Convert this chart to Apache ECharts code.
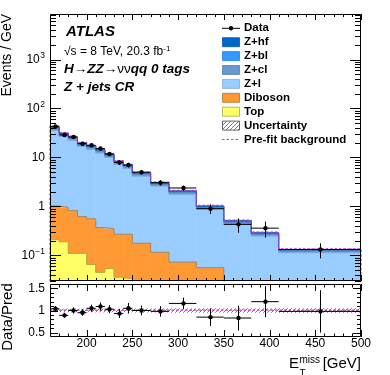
<!DOCTYPE html>
<html>
<head>
<meta charset="utf-8">
<script src="https://cdn.jsdelivr.net/npm/echarts@6/dist/echarts.min.js"></script>
<style>
  html, body { margin: 0; padding: 0; background: #fff; }
  #chart { width: 390px; height: 375px; }
</style>
</head>
<body>
<div id="chart"></div>
<script>
// bin edges in GeV
const binEdges = [160, 170, 180, 190, 200, 210, 220, 230, 240, 250, 270, 290, 320, 350, 380, 410, 500];

// backgrounds, events / GeV
const topBkg = [0.21, 0.19, 0.11, 0.11, 0.065, 0.045, 0.054, 0.036, 0.034, 0.02, 0.015, 0.01, 0.008, 0.005, 0.004, 0.002];
const diboson = [0.81, 0.77, 0.71, 0.51, 0.495, 0.325, 0.296, 0.234, 0.236, 0.157, 0.101, 0.063, 0.048, 0.02, 0.016, 0.01];
const zLight = [34.9, 25.8, 21.7, 16.3, 14.1, 12.0, 9.65, 6.9, 5.7, 4.0, 2.5, 1.7, 0.82, 0.41, 0.23, 0.102];
const zCl = [3.7, 2.7, 2.3, 1.7, 1.5, 1.27, 1.02, 0.73, 0.6, 0.42, 0.26, 0.18, 0.086, 0.044, 0.024, 0.011];
const zBl = [1.25, 0.9, 0.75, 0.6, 0.5, 0.42, 0.34, 0.24, 0.2, 0.14, 0.09, 0.06, 0.027, 0.015, 0.008, 0.0036];
const zHf = [1.25, 0.9, 0.75, 0.6, 0.5, 0.41, 0.34, 0.23, 0.2, 0.14, 0.09, 0.06, 0.027, 0.016, 0.008, 0.0034];
const uncRel = [0.04, 0.04, 0.04, 0.04, 0.04, 0.04, 0.04, 0.04, 0.04, 0.045, 0.045, 0.05, 0.05, 0.05, 0.05, 0.05];
const preFit = [43.5, 32.3, 27.2, 20.4, 17.7, 14.9, 12.0, 8.65, 7.2, 5.03, 3.15, 2.14, 1.05, 0.525, 0.298, 0.136];

// data
const dataVals = [43, 28.8, 26.1, 19.1, 17.7, 15.2, 11.8, 7.9, 7.0, 5.0, 3.05, 2.38, 0.9, 0.43, 0.36, 0.132];
const dataErr = [2.05, 1.7, 1.6, 1.4, 1.3, 1.2, 1.08, 0.9, 0.8, 0.5, 0.4, 0.28, 0.2, 0.14, 0.13, 0.045];

// ratio panel
const ratioVals = [1.04, 0.89, 1.0, 0.95, 1.05, 1.09, 1.03, 0.93, 1.05, 1.0, 0.98, 1.16, 0.85, 0.83, 1.2, 0.98];
const ratioErr = [0.06, 0.06, 0.07, 0.07, 0.08, 0.09, 0.09, 0.1, 0.12, 0.11, 0.12, 0.13, 0.2, 0.28, 0.35, 0.48];
const preFitRatio = [1.01, 1.01, 1.01, 1.01, 1.01, 1.01, 1.01, 1.01, 1.01, 1.01, 1.01, 1.01, 1.01, 1.01, 1.01, 1.01];

// tick labels
const xMajorTicks = [200, 250, 300, 350, 400, 450, 500];
const yMainLabels = [0.1, 1, 10, 100, 1000];
const yRatioLabels = [0.5, 1, 1.5];

const FONT = '"Liberation Sans", Arial, sans-serif';
const nBins = binEdges.length - 1;
const Y_MIN = 0.03, Y_MAX = 8500;

// hatch pattern for the uncertainty
const hatch = document.createElement('canvas');
hatch.width = 4; hatch.height = 4;
(function () {
    const g = hatch.getContext('2d');
    g.strokeStyle = '#555';
    g.lineWidth = 0.8;
    g.beginPath();
    g.moveTo(0, 4); g.lineTo(4, 0);
    g.moveTo(-1, 1); g.lineTo(1, -1);
    g.moveTo(3, 5); g.lineTo(5, 3);
    g.stroke();
})();
const hatchFill = { image: hatch, repeat: 'repeat' };

function boxRenderer(fill, stroke) {
    return function (params, api) {
        const a = api.coord([api.value(0), api.value(3)]);
        const b = api.coord([api.value(1), api.value(2)]);
        return {
            type: 'rect',
            shape: { x: a[0], y: a[1], width: b[0] - a[0], height: b[1] - a[1] },
            style: { fill: fill, stroke: stroke, lineWidth: stroke ? 0.6 : 0 }
        };
    };
}

function pointRenderer(params, api) {
    const x0 = api.value(0), x1 = api.value(1), y = api.value(2), e = api.value(3);
    const xc = (x0 + x1) / 2;
    const c = api.coord([xc, y]);
    const l = api.coord([x0, y]), r = api.coord([x1, y]);
    const u = api.coord([xc, y + e]), d = api.coord([xc, Math.max(y - e, 1e-4)]);
    const cx = Math.round(c[0]) + 0.5;
    return {
        type: 'group',
        children: [
            { type: 'line', shape: { x1: l[0], y1: c[1], x2: r[0], y2: c[1] }, style: { stroke: '#000', lineWidth: 1 } },
            { type: 'line', shape: { x1: cx, y1: u[1], x2: cx, y2: d[1] }, style: { stroke: '#000', lineWidth: 1 } },
            { type: 'circle', shape: { cx: cx, cy: c[1], r: 2.2 }, style: { fill: '#000' } }
        ]
    };
}

function stepPoints(vals, closeBottom) {
    const pts = [];
    if (closeBottom) pts.push([binEdges[0], 1e-3]);
    for (let i = 0; i < nBins; i++) pts.push([binEdges[i], vals[i]]);
    pts.push([binEdges[nBins], vals[nBins - 1]]);
    if (closeBottom) pts.push([binEdges[nBins], 1e-3]);
    return pts;
}

// stacked histogram, bottom to top
const components = [
    { name: 'Top', vals: topBkg, color: '#ffff66', edge: '#a8a840' },
    { name: 'Diboson', vals: diboson, color: '#ff9933', edge: '#b0702a' },
    { name: 'Z+l', vals: zLight, color: '#99ccff', edge: '#7fa9d4' },
    { name: 'Z+cl', vals: zCl, color: '#6699cc', edge: '#557fa8' },
    { name: 'Z+bl', vals: zBl, color: '#3399ff', edge: '#2a7fd4' },
    { name: 'Z+hf', vals: zHf, color: '#0066cc', edge: '#0055aa' }
];

const series = [];
const cum = new Array(nBins).fill(0);
components.forEach(function (c) {
    const items = [];
    for (let i = 0; i < nBins; i++) {
        const lo = cum[i] > 0 ? cum[i] : 1e-4;
        cum[i] += c.vals[i];
        items.push([binEdges[i], binEdges[i + 1], lo, cum[i]]);
    }
    series.push({
        type: 'custom', name: c.name, xAxisIndex: 0, yAxisIndex: 0, clip: true, silent: true, z: 2,
        encode: { x: [0, 1], y: [2, 3] }, data: items, renderItem: boxRenderer(c.color, c.color)
    });
    series.push({
        type: 'line', step: 'end', xAxisIndex: 0, yAxisIndex: 0, symbol: 'none', silent: true, z: 3,
        data: stepPoints(cum.slice(), false), lineStyle: { color: c.edge, width: 0.8 }
    });
});
const total = cum.slice();

// uncertainty band
series.push({
    type: 'custom', xAxisIndex: 0, yAxisIndex: 0, clip: true, silent: true, z: 4,
    encode: { x: [0, 1], y: [2, 3] },
    data: total.map((t, i) => [binEdges[i], binEdges[i + 1], t * (1 - uncRel[i]), t * (1 + uncRel[i])]),
    renderItem: boxRenderer(hatchFill, null)
});
series.push({
    type: 'custom', xAxisIndex: 1, yAxisIndex: 1, clip: true, silent: true, z: 4,
    encode: { x: [0, 1], y: [2, 3] },
    data: uncRel.map((u, i) => [binEdges[i], binEdges[i + 1], 1 - u, 1 + u]),
    renderItem: boxRenderer(hatchFill, null)
});

// pre-fit background
series.push({
    type: 'line', step: 'end', xAxisIndex: 0, yAxisIndex: 0, symbol: 'none', silent: true, z: 5,
    data: stepPoints(preFit, true), lineStyle: { color: '#cc33cc', width: 1.2, type: [2.5, 2] }
});
series.push({
    type: 'line', step: 'end', xAxisIndex: 1, yAxisIndex: 1, symbol: 'none', silent: true, z: 5,
    data: stepPoints(preFitRatio, false), lineStyle: { color: '#cc33cc', width: 1.2, type: [2.5, 2] }
});

// data points
series.push({
    type: 'custom', xAxisIndex: 0, yAxisIndex: 0, clip: true, silent: true, z: 6,
    encode: { x: [0, 1], y: 2 },
    data: dataVals.map((v, i) => [binEdges[i], binEdges[i + 1], v, dataErr[i]]),
    renderItem: pointRenderer
});
series.push({
    type: 'custom', xAxisIndex: 1, yAxisIndex: 1, clip: true, silent: true, z: 6,
    encode: { x: [0, 1], y: 2 },
    data: ratioVals.map((v, i) => [binEdges[i], binEdges[i + 1], v, ratioErr[i]]),
    renderItem: pointRenderer
});

// frames, ticks and tick labels, placed by the axes
function logLabel(v) {
    const e = Math.round(Math.log10(v));
    if (e === 0) return '1';
    if (e === 1) return '10';
    return '10{sup|' + (e < 0 ? '\u2212' + (-e) : e) + '}';
}
function frameSeries(gi, xRef, yRef, xt, yt, xLab, yLab) {
    const items = [];
    xt.forEach(t => items.push([t[0], yRef, 0, t[1], t[2]]));
    yt.forEach(t => items.push([xRef, t[0], 1, t[1], t[2]]));
    return {
        type: 'custom', xAxisIndex: gi, yAxisIndex: gi, silent: true, z: 20, clip: false,
        encode: { x: 0, y: 1 }, data: items,
        renderItem: function (params, api) {
            const cs = params.coordSys;
            const v0 = api.value(0), v1 = api.value(1);
            const p = api.coord([v0, v1]);
            const kind = api.value(2), len = api.value(3), lab = api.value(4);
            const ch = [];
            const st = { stroke: '#000', lineWidth: 1 };
            if (kind === 0) {
                const x = Math.round(p[0]) + 0.5;
                const yb = cs.y + cs.height;
                ch.push({ type: 'line', shape: { x1: x, y1: yb, x2: x, y2: yb - len }, style: st });
                ch.push({ type: 'line', shape: { x1: x, y1: cs.y, x2: x, y2: cs.y + len }, style: st });
                if (lab && xLab) ch.push({ type: 'text', style: { text: String(v0), x: p[0], y: yb + 1, align: 'center', verticalAlign: 'top', font: '12px ' + FONT, fill: '#000' } });
            } else {
                const y = Math.round(p[1]) + 0.5;
                const xr = cs.x + cs.width;
                ch.push({ type: 'line', shape: { x1: cs.x, y1: y, x2: cs.x + len, y2: y }, style: st });
                ch.push({ type: 'line', shape: { x1: xr, y1: y, x2: xr - len, y2: y }, style: st });
                if (lab) ch.push({
                    type: 'text',
                    style: {
                        text: yLab(v1), x: cs.x - 5, y: p[1], align: 'right', verticalAlign: 'middle',
                        font: '12px ' + FONT, fill: '#000', lineHeight: 16,
                        rich: { sup: { fontSize: 8.5, fontFamily: 'Liberation Sans', verticalAlign: 'top', lineHeight: 10, padding: [0, 0, 0, 0.5] } }
                    }
                });
            }
            if (params.dataIndex === 0) {
                ch.push({ type: 'rect', shape: { x: cs.x + 0.5, y: cs.y + 0.5, width: cs.width - 1, height: cs.height - 1 }, style: { fill: null, stroke: '#000', lineWidth: 1 } });
            }
            return { type: 'group', children: ch };
        }
    };
}

const xTicks = [];
for (let v = 170; v < 500; v += 10) if (v % 50 !== 0) xTicks.push(v);
const mainX = xMajorTicks.map(v => [v, 6, 1]).concat(xTicks.map(v => [v, 3, 0]));
const ratioX = xMajorTicks.map(v => [v, 7, 1]).concat(xTicks.map(v => [v, 3.5, 0]));
const mainY = yMainLabels.map(v => [v, 11, 1]);
for (let e = -2; e <= 3; e++) {
    for (let m = 2; m <= 9; m++) {
        const v = m * Math.pow(10, e);
        if (v > Y_MIN * 0.999 && v < Y_MAX) mainY.push([v, 6, 0]);
    }
}
const ratioY = yRatioLabels.map(v => [v, 8, 1]);
[0.6, 0.7, 0.8, 0.9, 1.1, 1.2, 1.3, 1.4].forEach(v => ratioY.push([v, 4, 0]));

series.push(frameSeries(0, 300, 1, mainX, mainY, false, logLabel));
series.push(frameSeries(1, 300, 1, ratioX, ratioY, true, v => String(v)));

const hiddenAxis = {
    axisLine: { show: false }, axisTick: { show: false }, axisLabel: { show: false }, splitLine: { show: false }
};

const legendRows = [
    { label: 'Data', kind: 'data' },
    { label: 'Z+hf', color: '#0066cc', edge: '#0055aa' },
    { label: 'Z+bl', color: '#3399ff', edge: '#2a7fd4' },
    { label: 'Z+cl', color: '#6699cc', edge: '#557fa8' },
    { label: 'Z+l', color: '#99ccff', edge: '#7fa9d4' },
    { label: 'Diboson', color: '#ff9933', edge: '#b0702a' },
    { label: 'Top', color: '#ffff66', edge: '#a8a840' },
    { label: 'Uncertainty', kind: 'hatch' },
    { label: 'Pre-fit background', kind: 'dash' }
];
const graphics = [];
legendRows.forEach(function (row, i) {
    const y = 28.3 + i * 13.9;
    if (row.kind === 'data') {
        graphics.push({ type: 'line', shape: { x1: 222, y1: y, x2: 240, y2: y }, style: { stroke: '#000', lineWidth: 1 } });
        graphics.push({ type: 'circle', shape: { cx: 231, cy: y, r: 2.2 }, style: { fill: '#000' } });
    } else if (row.kind === 'dash') {
        graphics.push({ type: 'line', shape: { x1: 222, y1: y, x2: 240, y2: y }, style: { stroke: '#cc33cc', lineWidth: 1.2, lineDash: [2.5, 2] } });
    } else if (row.kind === 'hatch') {
        graphics.push({ type: 'rect', shape: { x: 222.5, y: y - 4.5, width: 17, height: 9 }, style: { fill: hatchFill, stroke: '#666', lineWidth: 1 } });
    } else {
        graphics.push({ type: 'rect', shape: { x: 222.5, y: y - 4.5, width: 17, height: 9 }, style: { fill: row.color, stroke: row.edge, lineWidth: 0.8 } });
    }
    graphics.push({ type: 'text', x: 244, y: y, style: { text: row.label, font: 'bold 11.5px ' + FONT, fill: '#000', verticalAlign: 'middle' } });
});

graphics.push({ type: 'text', x: 66, y: 32, style: { text: 'ATLAS', font: 'italic bold 15px ' + FONT, fill: '#000', verticalAlign: 'middle' } });
graphics.push({
    type: 'text', x: 64, y: 52,
    style: {
        text: '\u221As = 8 TeV, 20.3 fb{sup|-1}', font: '12px ' + FONT, fill: '#000', verticalAlign: 'middle', lineHeight: 15,
        rich: { sup: { fontSize: 8, fontFamily: 'Liberation Sans', verticalAlign: 'top', lineHeight: 9 } }
    }
});
graphics.push({
    type: 'text', x: 64, y: 69,
    style: {
        text: '{bi|H\u2192ZZ\u2192}{r|\u03BD\u03BD}{bi|qq 0 tags}', fill: '#000', verticalAlign: 'middle',
        rich: {
            bi: { fontSize: 13.5, fontFamily: 'Liberation Sans', fontWeight: 'bold', fontStyle: 'italic' },
            r: { fontSize: 13.5, fontFamily: 'Liberation Sans' }
        }
    }
});
graphics.push({ type: 'text', x: 64, y: 87, style: { text: 'Z + jets CR', font: 'italic bold 13.5px ' + FONT, fill: '#000', verticalAlign: 'middle' } });

// axis titles
graphics.push({ type: 'text', x: 7.5, y: 14, rotation: Math.PI / 2, style: { text: 'Events / GeV', font: '14px ' + FONT, fill: '#000', align: 'right', verticalAlign: 'middle' } });
graphics.push({ type: 'text', x: 7.5, y: 317, rotation: Math.PI / 2, style: { text: 'Data/Pred', font: '15px ' + FONT, fill: '#000', align: 'center', verticalAlign: 'middle' } });
graphics.push({ type: 'text', x: 289, y: 364, style: { text: 'E', font: '15px ' + FONT, fill: '#000', verticalAlign: 'middle' } });
graphics.push({ type: 'text', x: 299.5, y: 360.5, style: { text: 'miss', font: '10px ' + FONT, fill: '#000', verticalAlign: 'middle' } });
graphics.push({ type: 'text', x: 299.5, y: 374, style: { text: 'T', font: '10px ' + FONT, fill: '#000', verticalAlign: 'middle' } });
graphics.push({ type: 'text', x: 361, y: 364, style: { text: '[GeV]', font: '15px ' + FONT, fill: '#000', align: 'right', verticalAlign: 'middle' } });

const chart = echarts.init(document.getElementById('chart'), null, { renderer: 'canvas' });
chart.setOption({
    animation: false,
    backgroundColor: '#fff',
    grid: [
        { left: 50, right: 29, top: 14, height: 267, outerBoundsMode: 'none' },
        { left: 50, right: 29, top: 284, height: 53, outerBoundsMode: 'none' }
    ],
    xAxis: [
        Object.assign({ type: 'value', gridIndex: 0, min: 160, max: 500 }, hiddenAxis),
        Object.assign({ type: 'value', gridIndex: 1, min: 160, max: 500 }, hiddenAxis)
    ],
    yAxis: [
        Object.assign({ type: 'log', logBase: 10, gridIndex: 0, min: Y_MIN, max: Y_MAX }, hiddenAxis),
        Object.assign({ type: 'value', gridIndex: 1, min: 0.4, max: 1.6 }, hiddenAxis)
    ],
    graphic: graphics,
    series: series
});
</script>
</body>
</html>
